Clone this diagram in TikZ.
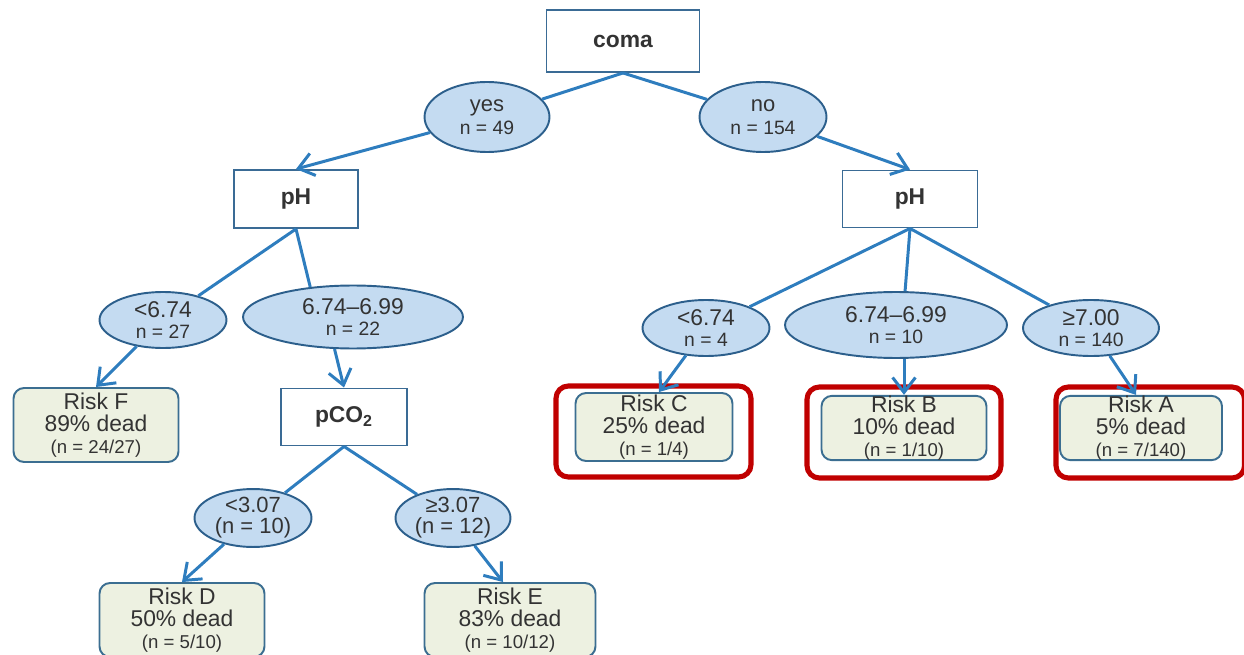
\documentclass[tikz,border=0pt]{standalone}
\usepackage{fontspec}
\setmainfont{Liberation Sans}
\usetikzlibrary{shapes.geometric,arrows.meta}
\definecolor{linecol}{HTML}{2E7DBE}
\definecolor{ellfill}{HTML}{C4DBF1}
\definecolor{elldraw}{HTML}{2C5F8C}
\definecolor{riskfill}{HTML}{EDF1E1}
\definecolor{riskdraw}{HTML}{3B6E91}
\definecolor{boxdraw}{HTML}{3A6B95}
\definecolor{hlred}{HTML}{C00000}
\definecolor{txt}{HTML}{333333}
\tikzset{
  var/.style={draw=boxdraw, line width=1.1pt, fill=white, rectangle, inner sep=0pt,
    font=\fontsize{13}{15}\selectfont\bfseries, text=txt},
  split/.style={draw=elldraw, line width=1.1pt, fill=ellfill, ellipse, inner sep=0pt,
    align=center, text=txt},
  risk/.style={draw=riskdraw, line width=1.1pt, fill=riskfill, rectangle, rounded corners=6pt,
    inner sep=0pt, align=center, text=txt, font=\fontsize{13}{12.5}\selectfont},
  conn/.style={draw=linecol, line width=1.7pt},
  arr/.style={conn, -{Straight Barb[length=8.5pt,width=13pt,line width=1.7pt]}},
  hl/.style={draw=hlred, line width=2.9pt, rounded corners=7pt},
}
\newcommand{\bign}[1]{{\fontsize{13}{12}\selectfont #1}}
\newcommand{\smalln}[1]{{\fontsize{10.6}{12}\selectfont #1}}
\newcommand{\midn}[1]{{\fontsize{11}{12}\selectfont #1}}
\newcommand{\yn}[1]{{\fontsize{12.5}{12}\selectfont #1}}
\begin{document}
\begin{tikzpicture}[x=0.02cm,y=-0.02cm]
\useasboundingbox (0,0) rectangle (1244,655);
% red highlight boxes (behind)
\draw[hl] (556,386) rectangle (751,477);
\draw[hl] (807,387) rectangle (1001,478);
\draw[hl] (1056,387) rectangle (1244.5,478);

% variable boxes
\node[var, minimum width=3.06cm, minimum height=1.24cm] (coma) at (623,41) {coma};
\node[var, minimum width=2.48cm, minimum height=1.16cm] (pHL) at (296,199) {pH};
\node[var, minimum width=2.7cm, minimum height=1.14cm] (pHR) at (910,199) {pH};
\node[var, minimum width=2.52cm, minimum height=1.14cm] (pco2) at (344,417) {pCO$_{\mathbf{2}}$};

% split ellipses
\node[split, minimum width=2.5cm, minimum height=1.4cm] (yes) at (487,117)
  {\yn{yes}\\[1pt]\midn{n = 49}};
\node[split, minimum width=2.54cm, minimum height=1.4cm] (no) at (763,117)
  {\yn{no}\\[1pt]\midn{n = 154}};
\node[split, minimum width=2.54cm, minimum height=1.12cm] (ltL) at (163,320)
  {\bign{<6.74}\\\midn{n = 27}};
\node[split, minimum width=4.4cm, minimum height=1.26cm] (midL) at (353,317)
  {\bign{6.74--6.99}\\\midn{n = 22}};
\node[split, minimum width=2.54cm, minimum height=1.12cm] (ltR) at (706,328)
  {\bign{<6.74}\\\midn{n = 4}};
\node[split, minimum width=4.44cm, minimum height=1.32cm] (midR) at (896,325)
  {\bign{6.74--6.99}\\\midn{n = 10}};
\node[split, minimum width=2.72cm, minimum height=1.12cm] (geR) at (1091,328)
  {\bign{≥7.00}\\\midn{n = 140}};
\node[split, minimum width=2.34cm, minimum height=1.06cm] (lt3) at (253,518)
  {\yn{<3.07}\\\yn{(n = 10)}};
\node[split, minimum width=2.3cm, minimum height=1.06cm] (ge3) at (453,518)
  {\yn{≥3.07}\\\yn{(n = 12)}};

% risk boxes
\node[risk, minimum width=3.3cm, minimum height=1.48cm] (riskF) at (96,425)
  {Risk F\\89\% dead\\\smalln{(n = 24/27)}};
\node[risk, minimum width=3.14cm, minimum height=1.36cm] (riskC) at (654,427)
  {Risk C\\25\% dead\\\smalln{(n = 1/4)}};
\node[risk, minimum width=3.3cm, minimum height=1.26cm] (riskB) at (904,428)
  {Risk B\\10\% dead\\\smalln{(n = 1/10)}};
\node[risk, minimum width=3.24cm, minimum height=1.26cm] (riskA) at (1141,428)
  {Risk A\\5\% dead\\\smalln{(n = 7/140)}};
\node[risk, minimum width=3.3cm, minimum height=1.48cm] (riskD) at (182,620)
  {Risk D\\50\% dead\\\smalln{(n = 5/10)}};
\node[risk, minimum width=3.42cm, minimum height=1.48cm] (riskE) at (510,620)
  {Risk E\\83\% dead\\\smalln{(n = 10/12)}};

% connectors
\draw[conn] (coma.south) -- (yes);
\draw[conn] (coma.south) -- (no);
\draw[arr] (yes) -- (pHL.north);
\draw[arr] (no) -- (pHR.north);
\draw[conn] (pHL.south) -- (ltL);
\draw[conn] (pHL.south) -- (midL.145);
\draw[arr] (ltL) -- (riskF.north);
\draw[arr] (midL.240) -- (pco2.north);
\draw[conn] (pco2.south) -- (lt3);
\draw[conn] (pco2.south) -- (ge3);
\draw[arr] (lt3) -- (riskD.north);
\draw[arr] (ge3) -- ([xshift=-0.14cm]riskE.north);
\draw[conn] (pHR.south) -- (ltR);
\draw[conn] (pHR.south) -- (midR.75);
\draw[conn] (pHR.south) -- (geR);
\draw[arr] (ltR) -- ([xshift=0.1cm]riskC.north);
\draw[arr] (riskB.north |- midR.south) -- (riskB.north);
\draw[arr] (geR) -- ([xshift=-0.1cm]riskA.north);
\end{tikzpicture}
\end{document}
